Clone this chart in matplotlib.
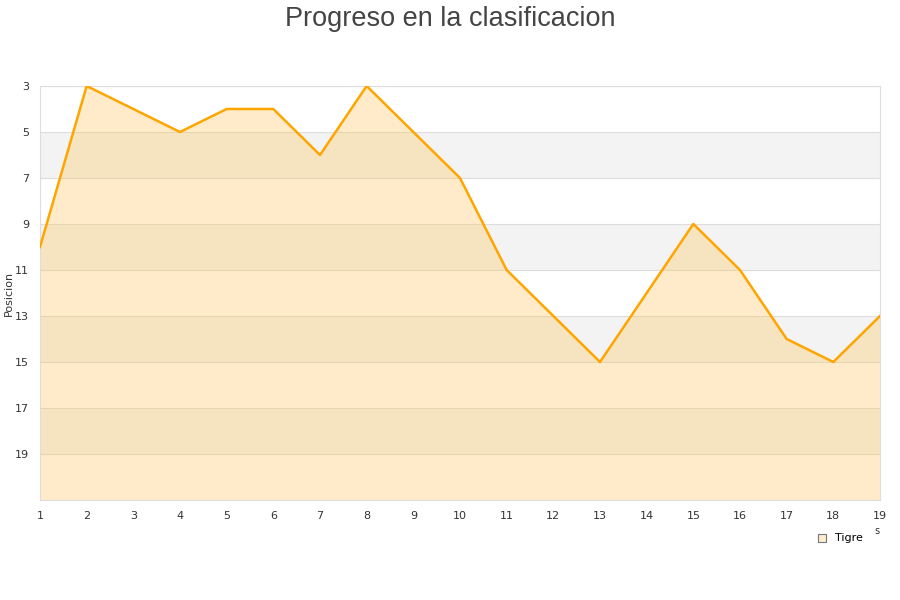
import numpy as np
import matplotlib.pyplot as plt

jornadas = list(range(1, 20))
posicion = [10, 3, 4, 5, 4, 4, 6, 3, 5, 7, 11, 13, 15, 12, 9, 11, 14, 15, 13]
equipo = 'Tigre'

fig = plt.figure(figsize=(9, 6), dpi=100)
ax = fig.add_axes([40 / 900, 100 / 600, 840 / 900, 414 / 600])

# bandas alternas
for y0 in range(5, 21, 4):
    ax.axhspan(y0, y0 + 2, color='#f3f3f3', zorder=0, lw=0)
for y in range(3, 21, 2):
    ax.axhline(y, color='#dddddd', lw=0.8, zorder=1)

ax.fill_between(jornadas, posicion, 21, color='#ffc04d', alpha=0.3, lw=0, zorder=2)
ax.plot(jornadas, posicion, color='#ffa500', lw=1.8, zorder=3)

ax.set_xlim(1, 19)
ax.set_ylim(21, 3)
ax.set_xticks(jornadas)
ax.set_yticks(range(3, 21, 2))
ax.tick_params(length=0, labelsize=8, colors='#333333', pad=8)
for s in ax.spines.values():
    s.set_color('#dddddd')
ax.set_ylabel('Posicion', fontsize=8, color='#333333')
ax.yaxis.set_label_coords(-26 / 840, 0.5)

fig.text(0.5, 1 - 26 / 600, 'Progreso en la clasificacion', ha='center', va='baseline',
         fontsize=19.5, color='#444444', family='Liberation Sans')

ax.scatter([], [], marker='s', s=30, color='#ffeecc', edgecolor='#777777', lw=0.8, label=equipo)
fig.legend(loc='center left', bbox_to_anchor=(811 / 900, 1 - 538 / 600), frameon=False,
           fontsize=8, handletextpad=0.2, borderaxespad=0, borderpad=0)
fig.text(874 / 900, 1 - 531 / 600, 's', fontsize=7, color='#333333', va='center')

fig.savefig('out.png', dpi=100)
